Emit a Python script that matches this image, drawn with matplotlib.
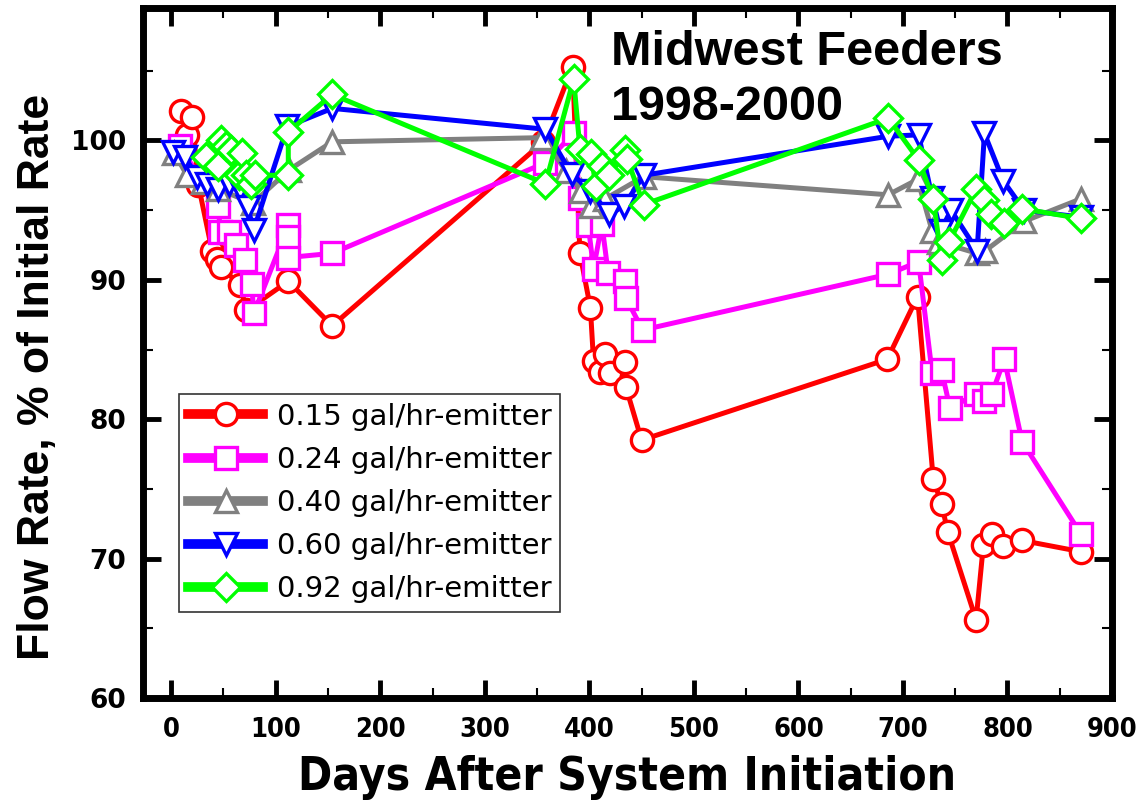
import matplotlib.pyplot as plt
from matplotlib import font_manager as fm
from matplotlib.ticker import MultipleLocator

# days / flow rate (% of initial)
red_x = [9, 15, 20, 26, 39, 44, 48, 66, 72, 112, 154, 356, 384, 391, 401, 404, 410, 415, 420, 434, 435, 450,
         685, 714, 729, 737, 743, 770, 777, 785, 796, 814, 870]
red_y = [102.1, 100.4, 101.7, 96.8, 92.1, 91.5, 90.9, 89.6, 87.8, 89.9, 86.7, 99.9, 105.3, 91.9, 88.0, 84.2, 83.4,
         84.7, 83.3, 84.1, 82.3, 78.5, 84.3, 88.8, 75.7, 73.9, 71.9, 65.6, 71.0, 71.8, 70.9, 71.3, 70.5]

mag_x = [8, 45, 47, 55, 62, 71, 77, 79, 112, 112, 112, 154, 358, 385, 391, 399, 404, 412, 418, 434, 435, 451,
         686, 715, 728, 737, 745, 770, 778, 785, 797, 814, 870]
mag_y = [99.6, 95.3, 93.4, 93.4, 92.5, 91.4, 89.7, 87.6, 93.9, 93.1, 91.6, 91.9, 98.4, 100.5, 95.9, 93.9, 90.8,
         94.0, 90.5, 89.9, 88.7, 86.4, 90.4, 91.3, 83.3, 83.5, 80.8, 81.8, 81.3, 81.8, 84.3, 78.4, 71.8]

gray_x = [3, 15, 30, 45, 78, 113, 154, 355, 378, 392, 402, 415, 452, 686, 714, 728, 735, 771, 779, 816, 870]
gray_y = [99.1, 97.5, 97.0, 96.5, 95.5, 97.9, 99.9, 100.2, 97.8, 96.4, 95.3, 95.8, 97.4, 96.1, 97.2, 93.5,
          92.7, 91.9, 92.1, 94.2, 95.8]

blue_x = [2, 13, 25, 34, 45, 55, 66, 73, 79, 111, 154, 358, 383, 401, 419, 433, 452,
          686, 715, 728, 736, 746, 771, 778, 796, 816, 870]
blue_y = [99.2, 98.8, 97.4, 96.9, 96.5, 96.9, 96.5, 95.2, 93.6, 101.0, 102.3, 100.8, 97.6, 96.4, 94.7, 95.3,
          97.5, 100.3, 100.4, 95.9, 93.5, 95.0, 92.1, 100.5, 97.1, 95.0, 94.5]

green_x = [33, 45, 48, 52, 57, 65, 68, 72, 76, 80, 112, 112, 154, 358, 385, 391, 402, 406, 412, 419, 434, 436,
           452, 686, 715, 729, 737, 744, 770, 778, 784, 797, 814, 870]
green_y = [98.8, 98.2, 100.0, 99.6, 99.3, 97.5, 99.1, 97.5, 96.9, 97.5, 97.5, 100.6, 103.3, 96.9, 104.4, 99.4,
           99.0, 96.7, 98.2, 97.5, 99.3, 98.7, 95.4, 101.6, 98.6, 95.8, 91.4, 92.7, 96.5, 95.7, 94.7, 94.1,
           95.1, 94.4]

labels = ['0.15 gal/hr-emitter', '0.24 gal/hr-emitter', '0.40 gal/hr-emitter',
          '0.60 gal/hr-emitter', '0.92 gal/hr-emitter']

# look for a narrow bold face for the x axis texts
narrow = None
for f in fm.fontManager.ttflist:
    st = str(f.stretch).lower()
    if ('narrow' in f.name.lower() or 'condensed' in f.name.lower() or st in ('condensed', 'semi-condensed')
            or (isinstance(f.stretch, int) and f.stretch < 500)):
        w = f.weight if isinstance(f.weight, int) else (700 if 'bold' in str(f.weight) else 400)
        if w >= 700:
            narrow = f.fname
            break
if narrow:
    xfont = dict(fname=narrow)
    xt_size, xl_size = 19.5, 33
else:
    xfont = dict(family='Liberation Sans', weight='bold')
    xt_size, xl_size = 18, 31

fig = plt.figure(figsize=(11.44, 8.01), dpi=100)
ax = fig.add_axes([0.125, 0.1286, 0.847, 0.8614])

series = [(red_x, red_y, '#ff0000', 'o'), (mag_x, mag_y, '#ff00ff', 's'), (gray_x, gray_y, '#808080', '^'),
          (blue_x, blue_y, '#0000ff', 'v'), (green_x, green_y, '#00ff00', 'D')]
for (xs, ys, c, m), lab in zip(series, labels):
    ms = 14 if m == 'D' else 16
    ax.plot(xs, ys, color=c, lw=3.6, marker=m, ms=ms, mfc='white', mec=c, mew=2.4, label=lab)

ax.set_xlim(-27, 900)
ax.set_ylim(60, 109.5)
ax.xaxis.set_major_locator(MultipleLocator(100))
ax.xaxis.set_minor_locator(MultipleLocator(50))
ax.yaxis.set_major_locator(MultipleLocator(10))
ax.yaxis.set_minor_locator(MultipleLocator(5))
ax.tick_params(which='both', direction='in', top=True, right=True)
ax.tick_params(which='major', length=13, width=3.5)
ax.tick_params(axis='x', which='major', pad=14)
ax.tick_params(axis='y', which='major', pad=12)
ax.tick_params(which='minor', length=7, width=1.5)
for s in ax.spines.values():
    s.set_linewidth(5)

xfp = fm.FontProperties(size=xt_size, **xfont)
for t in ax.get_xticklabels():
    t.set_fontproperties(xfp)
for t in ax.get_yticklabels():
    t.set_family('DejaVu Sans')
    t.set_fontweight('bold')
    t.set_fontsize(19)

ax.set_xlabel('Days After System Initiation', fontproperties=fm.FontProperties(size=xl_size, **xfont),
              labelpad=8)
ax.set_ylabel('Flow Rate, % of Initial Rate', family='Liberation Sans', fontweight='bold', fontsize=32)
ax.yaxis.set_label_coords(-0.088, 0.465)

ax.text(0.483, 0.968, 'Midwest Feeders\n1998-2000', transform=ax.transAxes, ha='left', va='top',
        family='Liberation Sans', fontweight='bold', fontsize=35, linespacing=1.27)

leg = ax.legend(loc='lower left', bbox_to_anchor=(0.037, 0.1246), fontsize=21, frameon=True,
                fancybox=False, edgecolor='black', handlelength=2.6, borderpad=0.3, labelspacing=0.52,
                handletextpad=0.45, borderaxespad=0)
leg.get_frame().set_linewidth(1.2)
for h in leg.get_lines():
    h.set_linewidth(7)

fig.savefig('out.png', dpi=100)
